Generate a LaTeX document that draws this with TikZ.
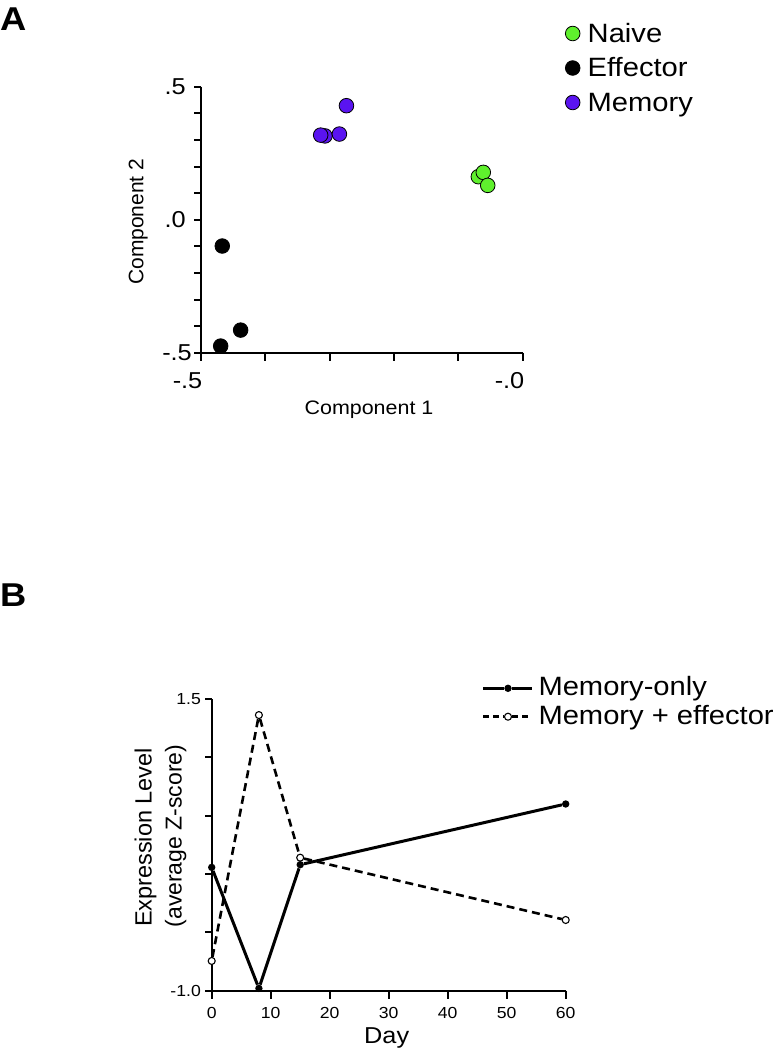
\documentclass[tikz,border=0pt]{standalone}
\usepackage{fontspec}
\newfontfamily\plotfont{Liberation Sans}[FakeStretch=1.1]
\newfontfamily\rotfont{Liberation Sans}
\usepackage{tikz}
\definecolor{naivegreen}{RGB}{95,240,45}
\definecolor{memviolet}{RGB}{90,20,240}

\begin{document}
\begin{tikzpicture}[x=1pt, y=-1pt,
  axis/.style={line width=2pt},
  dot/.style={circle, draw=black, line width=0.8pt, inner sep=0pt, minimum size=14.6pt},
  fillmark/.style={circle, fill=black, inner sep=0pt, minimum size=7.4pt},
  openmark/.style={circle, draw=black, fill=white, line width=1.1pt, inner sep=0pt, minimum size=7pt},
  solidtrace/.style={line width=3pt},
  dashtrace/.style={line width=2.6pt, dash pattern=on 8pt off 5pt},
  ticklab/.style={inner sep=0pt, font=\plotfont\fontsize{23}{26}\selectfont},
  smalllab/.style={inner sep=0pt, font=\plotfont\fontsize{16}{19}\selectfont},
  leg/.style={inner sep=0pt, anchor=base west, font=\plotfont\fontsize{26.5}{30}\selectfont},
  panel/.style={inner sep=0pt, anchor=base west, font=\plotfont\bfseries\fontsize{33}{36}\selectfont}]
  \useasboundingbox (0,0) rectangle (779,1050);
  \fill[white] (0,0) rectangle (779,1050);

  % Panel A
  \node[panel] (pa) at (0,30) {A};
  \draw[axis] (200.7,86.7) -- (200.7,352.7) -- (522.7,352.7);
  \foreach \k in {0,...,10} \draw[axis] (200.7,{86.7+26.6*\k}) -- ++(-7,0);
  \foreach \k in {0,...,5} \draw[axis] ({200.7+64.4*\k},352.7) -- ++(0,8);
  \node[ticklab, anchor=east] (ya1) at (186,86.7) {.5};
  \node[ticklab, anchor=east] (ya2) at (186,219.7) {.0};
  \node[ticklab, anchor=east] (ya3) at (192,352.7) {-.5};
  \node[ticklab, anchor=base east] (xa1) at (202.5,388.3) {-.5};
  \node[ticklab, anchor=base east] (xa2) at (524.5,388.3) {-.0};
  \node[inner sep=0pt, anchor=base, font=\plotfont\fontsize{19.5}{22}\selectfont] (xlab) at (369,414) {Component 1};
  \node[inner sep=0pt, anchor=base, rotate=90, font=\rotfont\fontsize{21}{25}\selectfont] (ylab) at (143.3,221.7) {Component 2};

  % Points A
  \begin{scope}[shift={(522.7,219.7)}, xscale=644, yscale=-266]
    \node[dot, fill=black] (e1) at (-0.4665,-0.099) {};
    \node[dot, fill=black] (e2) at (-0.438,-0.415) {};
    \node[dot, fill=black] (e3) at (-0.469,-0.475) {};
    \node[dot, fill=memviolet] (m2) at (-0.307,0.315) {};
    \node[dot, fill=memviolet] (m1) at (-0.3137,0.318) {};
    \node[dot, fill=memviolet] (m3) at (-0.2846,0.322) {};
    \node[dot, fill=memviolet] (m4) at (-0.2737,0.4286) {};
    \node[dot, fill=naivegreen] (n1) at (-0.0689,0.1617) {};
    \node[dot, fill=naivegreen] (n2) at (-0.0612,0.178) {};
    \node[dot, fill=naivegreen] (n3) at (-0.0543,0.129) {};
  \end{scope}

  % Legend A
  \node[dot, fill=naivegreen] (lgn) at (572.7,33.5) {};
  \node[dot, fill=black] (lge) at (572.7,68) {};
  \node[dot, fill=memviolet] (lgm) at (572.7,102.5) {};
  \node[leg] (lgnt) at (587.5,42.2) {Naive};
  \node[leg] (lget) at (587.5,76.7) {Effector};
  \node[leg] (lgmt) at (587.5,111.2) {Memory};

  % Panel B
  \node[panel] (pb) at (0,606) {B};
  \draw[axis] (211.7,699) -- (211.7,990.7) -- (565.7,990.7);
  \foreach \k in {0,...,5} \draw[axis] (211.7,{699+58.34*\k}) -- ++(-7,0);
  \foreach \k in {0,...,6} {
    \draw[axis] ({211.7+59*\k},990.7) -- ++(0,8);
    \node[smalllab, anchor=north] (xb\k) at ({211.7+59*\k},1006.7) {\pgfmathparse{int(10*\k)}\pgfmathresult};
  }
  \node[smalllab, anchor=east] (yb1) at (201,699) {1.5};
  \node[smalllab, anchor=east] (yb2) at (201,990.7) {-1.0};
  \node[inner sep=0pt, anchor=base, font=\plotfont\fontsize{23}{26}\selectfont] (daylab) at (386.7,1043.3) {Day};
  \node[inner sep=0pt, anchor=base, rotate=90, font=\rotfont\fontsize{23.5}{28}\selectfont] (exlab) at (151.7,837.5) {Expression Level};
  \node[inner sep=0pt, anchor=base, rotate=90, font=\rotfont\fontsize{23}{28}\selectfont] (zlab) at (181.7,836) {(average Z-score)};

  % Traces B
  \begin{scope}[shift={(211.7,874)}, xscale=5.9, yscale=-116.7]
    \node[fillmark] (mo0) at (0,0.057) {};
    \node[fillmark] (mo8) at (8,-0.98) {};
    \node[fillmark] (mo15) at (15,0.08) {};
    \node[fillmark] (mo60) at (60,0.6) {};
    \node[openmark] (me0) at (0,-0.745) {};
    \node[openmark] (me8) at (8,1.362) {};
    \node[openmark] (me15) at (15,0.14) {};
    \node[openmark] (me60) at (60,-0.394) {};
  \end{scope}
  \draw[dashtrace] (me0) -- (me8) -- (me15) -- (me60);
  \draw[solidtrace] (mo0) -- (mo8) -- (mo15) -- (mo60);

  % Legend B
  \coordinate (la1) at (483.3,688.3);
  \coordinate (lb1) at (531.7,688.3);
  \node[fillmark] (lm1) at (508,688.3) {};
  \draw[solidtrace] (la1) -- (lm1) -- (lb1);
  \node[leg] (lt1) at (538.3,695.8) {Memory-only};
  \coordinate (la2) at (483.3,716.7);
  \coordinate (lb2) at (531.7,716.7);
  \node[openmark] (lm2) at (508,716.7) {};
  \draw[dashtrace, dash pattern=on 6pt off 4pt] (la2) -- (lm2) -- (lb2);
  \node[leg] (lt2) at (538.3,724.2) {Memory + effector};
\end{tikzpicture}
\end{document}
